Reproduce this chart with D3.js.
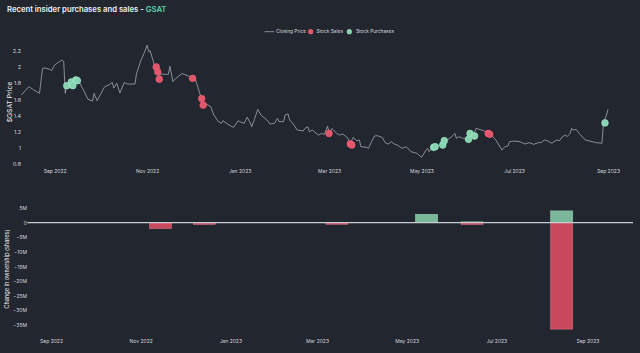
<!DOCTYPE html>
<meta charset="utf-8">
<body style="margin:0;background-color:#22262f;">
<svg width="640" height="353"></svg>
<script src="https://d3js.org/d3.v7.min.js"></script>
<script>

// closing price
var closePrice = [
 ["2022-08-10",1.654],["2022-08-15",1.757],["2022-08-18",1.72],["2022-08-22",1.675],["2022-08-24",1.98],
 ["2022-08-25",1.99],["2022-08-29",1.97],["2022-08-30",1.955],["2022-09-01",2.025],["2022-09-04",2.065],
 ["2022-09-06",2.086],["2022-09-07",2.065],["2022-09-08",1.675],["2022-09-09",1.78],["2022-09-12",1.82],
 ["2022-09-15",1.84],["2022-09-17",1.82],["2022-09-20",1.716],["2022-09-23",1.60],["2022-09-26",1.58],
 ["2022-09-27",1.675],["2022-09-29",1.585],["2022-10-04",1.757],["2022-10-07",1.78],["2022-10-09",1.81],
 ["2022-10-10",1.74],["2022-10-12",1.80],["2022-10-14",1.68],["2022-10-17",1.81],["2022-10-19",1.79],
 ["2022-10-24",1.79],["2022-10-25",1.92],["2022-10-28",2.086],["2022-10-30",2.17],["2022-11-01",2.27],
 ["2022-11-02",2.19],["2022-11-03",2.20],["2022-11-04",2.136],["2022-11-06",2.012],["2022-11-07",1.94],
 ["2022-11-09",1.88],["2022-11-10",1.92],["2022-11-11",1.91],["2022-11-15",1.91],["2022-11-16",2.01],
 ["2022-11-18",1.82],["2022-11-20",1.86],["2022-11-24",1.92],["2022-11-28",1.89],["2022-12-01",1.86],
 ["2022-12-03",1.84],["2022-12-05",1.716],["2022-12-07",1.60],["2022-12-08",1.53],["2022-12-10",1.543],
 ["2022-12-13",1.51],["2022-12-15",1.407],["2022-12-18",1.325],["2022-12-20",1.305],["2022-12-21",1.337],
 ["2022-12-24",1.296],["2022-12-27",1.263],["2022-12-28",1.255],["2022-12-31",1.337],["2023-01-01",1.325],
 ["2023-01-04",1.305],["2023-01-06",1.38],["2023-01-08",1.31],["2023-01-09",1.263],["2023-01-11",1.366],
 ["2023-01-13",1.477],["2023-01-15",1.407],["2023-01-19",1.346],["2023-01-21",1.296],["2023-01-24",1.305],
 ["2023-01-26",1.366],["2023-01-27",1.325],["2023-01-30",1.325],["2023-01-31",1.407],["2023-02-02",1.42],
 ["2023-02-03",1.346],["2023-02-05",1.305],["2023-02-08",1.222],["2023-02-12",1.21],["2023-02-13",1.24],
 ["2023-02-15",1.263],["2023-02-16",1.20],["2023-02-18",1.222],["2023-02-22",1.16],["2023-02-24",1.18],
 ["2023-02-26",1.168],["2023-02-28",1.27],["2023-03-01",1.19],["2023-03-03",1.24],["2023-03-06",1.18],
 ["2023-03-08",1.16],["2023-03-10",1.173],["2023-03-13",1.132],["2023-03-15",1.058],["2023-03-17",1.132],
 ["2023-03-19",1.09],["2023-03-21",1.099],["2023-03-22",1.016],["2023-03-26",1.008],["2023-03-27",0.996],
 ["2023-03-29",1.078],["2023-03-31",1.148],["2023-04-02",1.152],["2023-04-05",1.132],["2023-04-07",1.066],
 ["2023-04-09",1.049],["2023-04-11",1.078],["2023-04-13",1.049],["2023-04-15",1.037],["2023-04-18",0.996],
 ["2023-04-21",1.016],["2023-04-24",0.955],["2023-04-28",0.934],["2023-05-01",0.885],["2023-05-04",0.975],
 ["2023-05-05",0.996],["2023-05-06",0.955],["2023-05-09",1.016],["2023-05-11",1.025],["2023-05-13",1.037],
 ["2023-05-15",1.058],["2023-05-16",1.099],["2023-05-18",1.099],["2023-05-21",1.14],["2023-05-23",1.18],
 ["2023-05-24",1.12],["2023-05-26",1.14],["2023-05-28",1.12],["2023-06-01",1.12],["2023-06-02",1.18],
 ["2023-06-04",1.148],["2023-06-06",1.243],["2023-06-08",1.23],["2023-06-11",1.214],["2023-06-14",1.169],
 ["2023-06-16",1.16],["2023-06-19",1.099],["2023-06-21",1.037],["2023-06-23",0.975],["2023-06-25",1.016],
 ["2023-06-27",1.025],["2023-06-28",1.078],["2023-07-01",1.086],["2023-07-05",1.078],["2023-07-08",1.049],
 ["2023-07-11",1.066],["2023-07-14",1.045],["2023-07-17",1.066],["2023-07-19",1.066],["2023-07-21",1.099],
 ["2023-07-23",1.09],["2023-07-26",1.058],["2023-07-29",1.099],["2023-07-31",1.09],["2023-08-02",1.14],
 ["2023-08-04",1.16],["2023-08-05",1.14],["2023-08-07",1.18],["2023-08-08",1.243],["2023-08-09",1.222],
 ["2023-08-11",1.23],["2023-08-13",1.18],["2023-08-17",1.099],["2023-08-20",1.086],["2023-08-24",1.066],
 ["2023-08-28",1.058],["2023-08-29",1.305],["2023-08-31",1.407],["2023-09-01",1.477]
];

var stockSales = [
 ["2022-11-07",2.0],["2022-11-08",1.94],["2022-11-09",1.85],["2022-12-01",1.86],["2022-12-07",1.61],
 ["2022-12-08",1.53],["2023-03-01",1.18],["2023-03-15",1.05],["2023-03-16",1.037],["2023-06-14",1.18],
 ["2023-06-15",1.169]
];

var stockPurchases = [
 ["2022-09-09",1.77],["2022-09-12",1.815],["2022-09-13",1.77],["2022-09-15",1.84],["2022-09-16",1.83],
 ["2023-05-09",1.008],["2023-05-10",1.016],["2023-05-15",1.037],["2023-05-16",1.09],["2023-06-01",1.107],
 ["2023-06-02",1.18],["2023-06-05",1.148],["2023-08-30",1.31]
];

// monthly change in ownership, millions of shares
var salesByMonth = [
 ["2022-11-15",-2.0],["2022-12-15",-0.6],["2023-03-15",-0.55],["2023-06-15",-0.6],["2023-08-15",-36.4]
];
var purchasesByMonth = [
 ["2023-05-15",2.85],["2023-06-15",0.25],["2023-08-15",4.0]
];

var priceTicks = [0.8, 1, 1.2, 1.4, 1.6, 1.8, 2, 2.2];
var sharesTicks = [5, 0, -5, -10, -15, -20, -25, -30, -35];

var parse = d3.timeParse("%Y-%m-%d");
var svg = d3.select("svg");
var txt = "#d6d9de", red = "#e0566b", green = "#8ad3b2";

// title
var title = svg.append("text").attr("x", 7).attr("y", 11.5)
  .style("font-family", "Inter, sans-serif").style("font-size", "7.7px").style("font-weight", 600)
  .attr("fill", "#eef0f2");
title.append("tspan").text("Recent insider purchases and sales - ");
title.append("tspan").attr("fill", "#5fd0a8").text("GSAT");

// ---------- upper panel: price
var x1 = d3.scaleTime().domain([parse("2022-08-10"), parse("2023-09-01")]).range([21.3, 608]);
var y1 = d3.scaleLinear().domain([0.8, 2.2]).range([164.2, 50.8]);

var pricePanel = svg.append("g");

pricePanel.append("g").attr("transform", "translate(0,168)")
  .call(d3.axisBottom(x1).ticks(d3.timeMonth.every(2)).tickFormat(d3.timeFormat("%b %Y")).tickSize(0))
  .call(function(g) { g.select(".domain").remove(); })
  .selectAll("text").attr("fill", txt).attr("dy", "0.35em")
  .style("font-family", "Inter, sans-serif").style("font-size", "5px");

pricePanel.append("g").attr("transform", "translate(21,0)")
  .call(d3.axisLeft(y1).tickValues(priceTicks).tickFormat(d3.format("~g")).tickSize(0).tickPadding(0))
  .call(function(g) { g.select(".domain").remove(); })
  .selectAll("text").attr("fill", txt)
  .style("font-family", "Inter, sans-serif").style("font-size", "5.4px");

pricePanel.append("text").attr("transform", "translate(11.5,102)rotate(-90)").attr("text-anchor", "middle")
  .attr("fill", "#eef0f2").style("font-family", "Inter, sans-serif").style("font-size", "6.8px")
  .text("$GSAT Price");

var line = d3.line().x(function(d) { return x1(parse(d[0])); }).y(function(d) { return y1(d[1]); });
pricePanel.append("path").datum(closePrice).attr("d", line)
  .attr("fill", "none").attr("stroke", "#a3a7ad").attr("stroke-width", 0.8);

function dots(data, color) {
  pricePanel.append("g").selectAll("circle").data(data).enter().append("circle")
    .attr("cx", function(d) { return x1(parse(d[0])); })
    .attr("cy", function(d) { return y1(d[1]); })
    .attr("r", 3.4).attr("fill", color).attr("stroke", d3.color(color).brighter(0.4)).attr("stroke-width", 0.5);
}
dots(stockSales, red);
dots(stockPurchases, green);

// legend
var legend = svg.append("g").style("font-family", "Inter, sans-serif").style("font-size", "4.8px");
legend.append("line").attr("x1", 264.5).attr("x2", 274).attr("y1", 31.7).attr("y2", 31.7)
  .attr("stroke", "#a3a7ad").attr("stroke-width", 0.8);
legend.append("text").attr("x", 276).attr("y", 33.4).attr("fill", txt).text("Closing Price");
legend.append("circle").attr("cx", 310.7).attr("cy", 31.7).attr("r", 2.6).attr("fill", red);
legend.append("text").attr("x", 316.5).attr("y", 33.4).attr("fill", txt).text("Stock Sales");
legend.append("circle").attr("cx", 349.3).attr("cy", 31.7).attr("r", 2.6).attr("fill", green);
legend.append("text").attr("x", 356).attr("y", 33.4).attr("fill", txt).text("Stock Purchases");

// ---------- lower panel: ownership change
var x2 = d3.scaleTime().domain([parse("2022-08-16"), parse("2023-10-02")]).range([27.5, 633]);
var y2 = d3.scaleLinear().domain([5, -35]).range([208, 325]);

var sharesPanel = svg.append("g");

sharesPanel.append("g").attr("transform", "translate(0,338)")
  .call(d3.axisBottom(x2).ticks(d3.timeMonth.every(2)).tickFormat(d3.timeFormat("%b %Y")).tickSize(0))
  .call(function(g) { g.select(".domain").remove(); })
  .selectAll("text").attr("fill", txt).attr("dy", "0.35em")
  .style("font-family", "Inter, sans-serif").style("font-size", "5px");

sharesPanel.append("g").attr("transform", "translate(27,0)")
  .call(d3.axisLeft(y2).tickValues(sharesTicks)
        .tickFormat(function(d) { return d === 0 ? "0" : (d < 0 ? "\u2212" + (-d) : d) + "M"; })
        .tickSize(0).tickPadding(0))
  .call(function(g) { g.select(".domain").remove(); })
  .selectAll("text").attr("fill", txt)
  .style("font-family", "Inter, sans-serif").style("font-size", "5px");

sharesPanel.append("text").attr("transform", "translate(8.5,269)rotate(-90)").attr("text-anchor", "middle")
  .attr("fill", "#eef0f2").style("font-family", "Inter, sans-serif").style("font-size", "5.6px")
  .text("Change in ownership (shares)");

function bars(data, fill, edge) {
  sharesPanel.append("g").selectAll("rect").data(data).enter().append("rect")
    .attr("x", function(d) { return x2(d3.timeDay.offset(parse(d[0]), -7.5)); })
    .attr("width", function(d) { return x2(d3.timeDay.offset(parse(d[0]), 7.5)) - x2(d3.timeDay.offset(parse(d[0]), -7.5)); })
    .attr("y", function(d) { return y2(Math.max(0, d[1])); })
    .attr("height", function(d) { return Math.abs(y2(d[1]) - y2(0)); })
    .attr("fill", fill).attr("stroke", edge).attr("stroke-width", 0.6);
}
bars(salesByMonth, "#c8485c", "#d8707f");
bars(purchasesByMonth, "#79b898", "#9cd0b6");

// zero line across the lower panel
sharesPanel.append("line").attr("x1", x2.range()[0]).attr("x2", x2.range()[1])
  .attr("y1", y2(0)).attr("y2", y2(0)).attr("stroke", "#c9cdd3").attr("stroke-width", 1.2);

</script>
</body>
